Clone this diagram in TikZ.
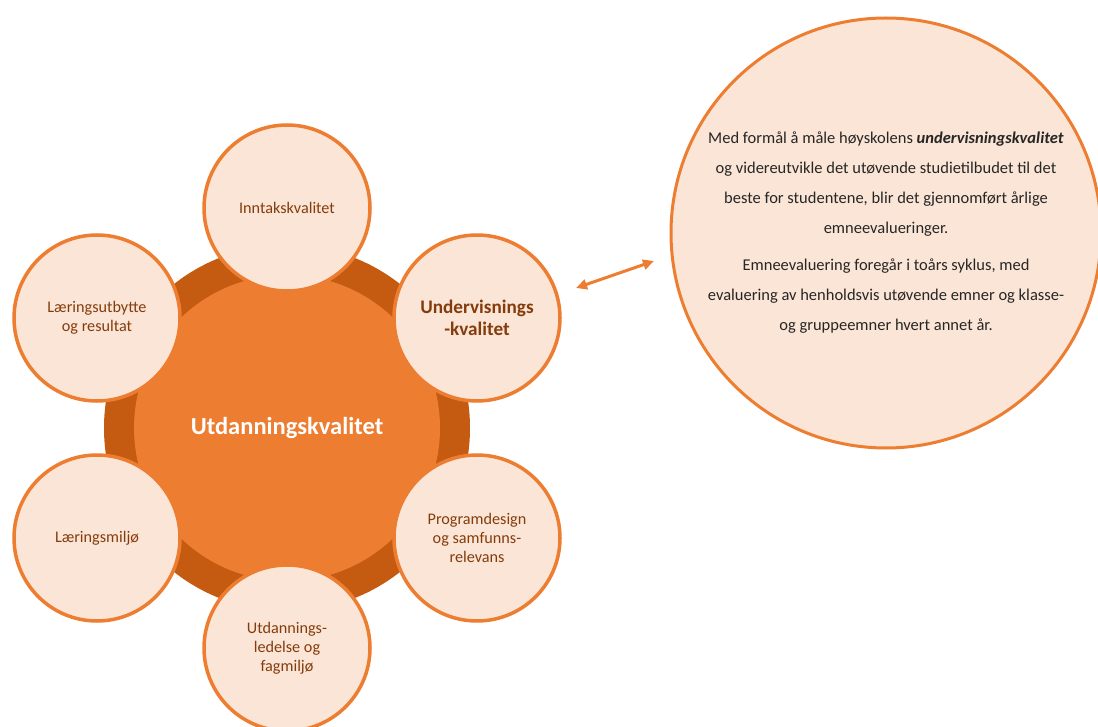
\documentclass[tikz,border=0pt]{standalone}
\usepackage{fontspec}
\setmainfont{Carlito}
\usetikzlibrary{arrows.meta}
\definecolor{ringorange}{HTML}{C55A11}
\definecolor{huborange}{HTML}{ED7D31}
\definecolor{peach}{HTML}{FBE5D6}
\definecolor{browntext}{HTML}{843C0C}
\tikzset{
  satellite/.style={circle, draw=huborange, line width=3.5pt, fill=peach,
    minimum size=166pt, inner sep=0pt, align=center, text=browntext,
    font=\fontsize{16.2}{19}\selectfont},
  twoway/.style={{Triangle[length=11pt,width=10pt]}-{Triangle[length=11pt,width=10pt]},
    draw=huborange, line width=3pt, shorten <=0pt},
}

\begin{document}
\begin{tikzpicture}[x=1pt,y=-1pt]
      \useasboundingbox (0,0) rectangle (1098,727);
      % hub with dark ring
      \node[circle, fill=ringorange, minimum size=366pt] (ring) at (287,428) {};
      \node[circle, fill=huborange, minimum size=306pt, text=white,
        font=\bfseries\fontsize{24.5}{28}\selectfont] (hub) at (287,428) {Utdanningskvalitet};
      % satellites
      \node[satellite] (inntak) at (287,208) {Inntakskvalitet};
      \node[satellite, font=\bfseries\fontsize{19.2}{22}\selectfont] (underv) at (477,318) {Undervisnings\\-kvalitet};
      \node[satellite] (program) at (477,538) {Programdesign\\og samfunns-\\relevans};
      \node[satellite] (ledelse) at (287,648) {Utdannings-\\ledelse og\\fagmiljø};
      \node[satellite] (miljo) at (97,538) {Læringsmiljø};
      \node[satellite] (utbytte) at (97,318) {Læringsutbytte\\og resultat};
      % explanation
      \node[circle, draw=huborange, line width=3pt, fill=peach, minimum size=430pt,
        inner sep=0pt, align=center, text=black!85,
        font=\fontsize{16.5}{30}\selectfont] (info) at (886,233)
        {Med formål å måle høyskolens \textbf{\textit{undervisningskvalitet}}\\
         og videreutvikle det utøvende studietilbudet til det\\
         beste for studentene, blir det gjennomført årlige\\
         emneevalueringer.\\[7pt]
         Emneevaluering foregår i toårs syklus, med\\
         evaluering av henholdsvis utøvende emner og klasse-\\
         og gruppeemner hvert annet år.};
      \coordinate (arrowL) at (576,288);
      \coordinate (arrowR) at (654,261);
      \draw[twoway] (arrowL) -- (arrowR);
\end{tikzpicture}
\end{document}
